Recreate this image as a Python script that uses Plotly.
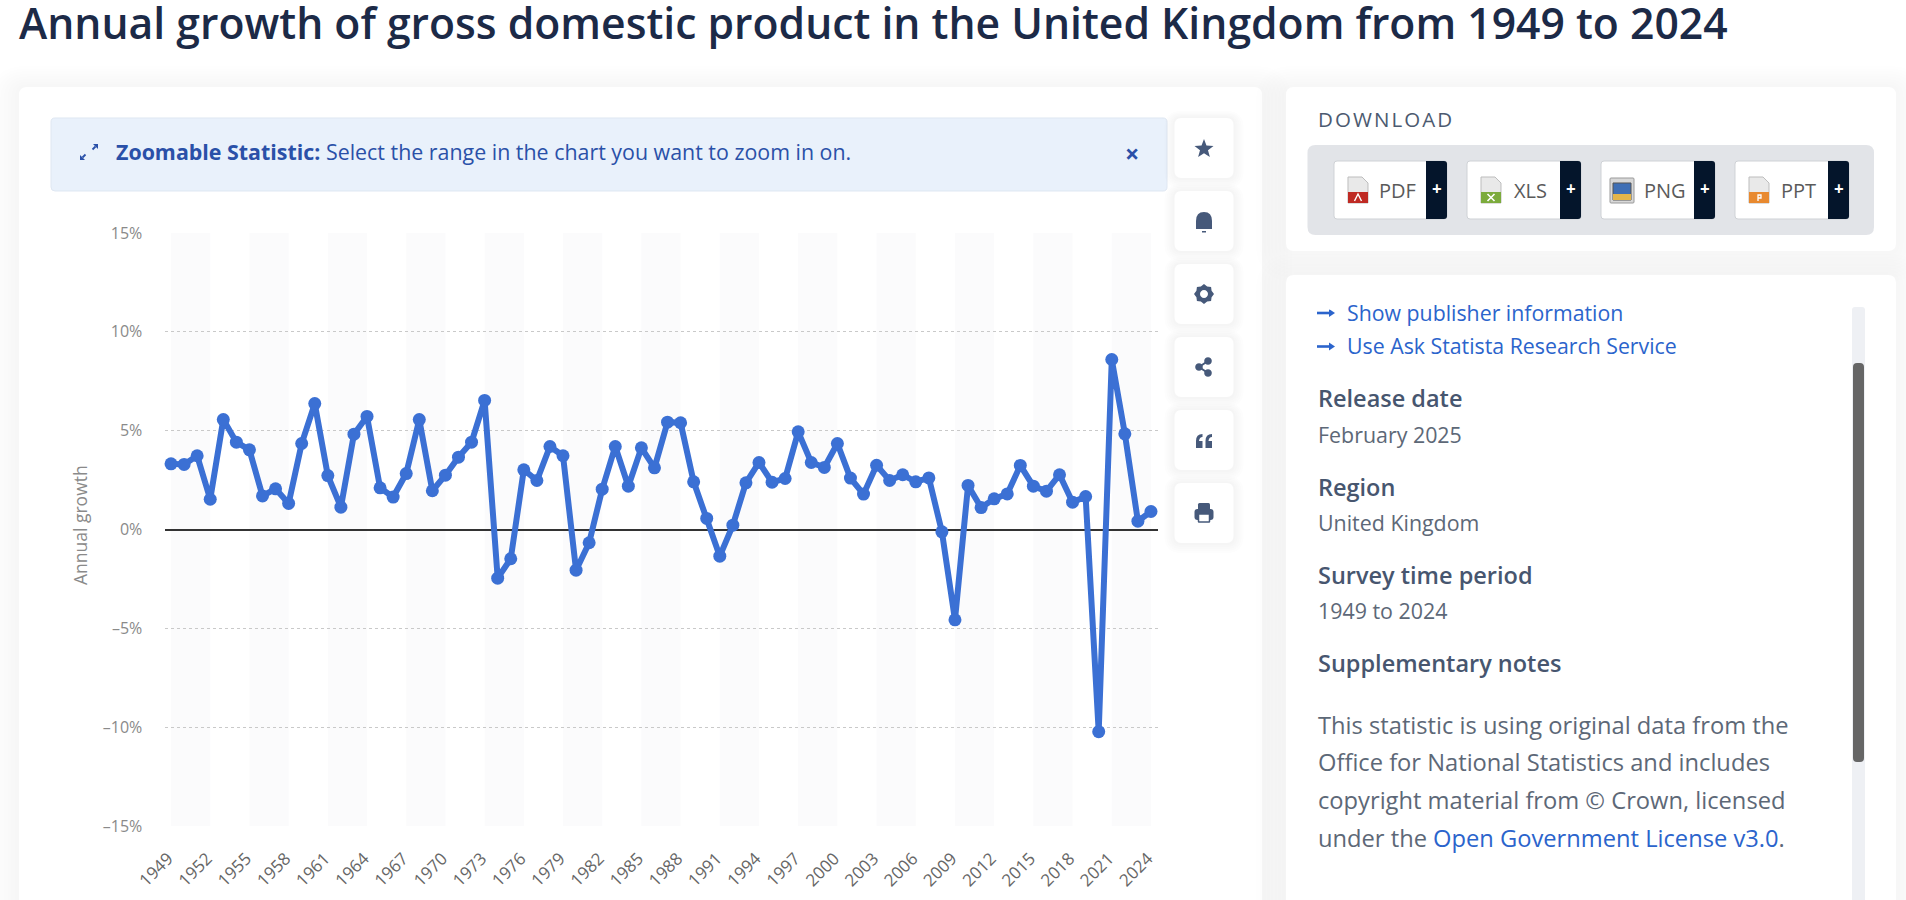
import math
import plotly.graph_objects as go

years = list(range(1949, 2025))
growth = [3.32, 3.29, 3.73, 1.53, 5.56, 4.42, 4.03, 1.70, 2.06, 1.32,
          4.35, 6.37, 2.73, 1.13, 4.82, 5.72, 2.11, 1.64, 2.83, 5.56,
          1.96, 2.75, 3.66, 4.42, 6.53, -2.46, -1.48, 3.02, 2.48, 4.20,
          3.73, -2.06, -0.67, 2.04, 4.20, 2.19, 4.13, 3.12, 5.43, 5.40,
          2.41, 0.56, -1.35, 0.22, 2.36, 3.39, 2.39, 2.58, 4.94, 3.39,
          3.14, 4.35, 2.60, 1.79, 3.25, 2.48, 2.77, 2.41, 2.61, -0.12,
          -4.57, 2.23, 1.11, 1.55, 1.80, 3.24, 2.19, 1.94, 2.77, 1.38,
          1.67, -10.23, 8.60, 4.84, 0.42, 0.91]
x_ticks = list(range(1949, 2025, 3))
y_ticks = [-15, -10, -5, 0, 5, 10, 15]

W, H = 1906, 900
FONT = "Open Sans"
shapes, notes = [], []


def fx(x):
    return x / W


def fy(y):
    return 1 - y / H


def path(cmds):
    """cmds: list like ('M',x,y), ('L',x,y), ('Q',cx,cy,x,y), ('Z',) in page pixels"""
    out = []
    for c in cmds:
        nums = c[1:]
        pts = []
        for i in range(0, len(nums), 2):
            pts.append(f"{fx(nums[i]):.6f},{fy(nums[i + 1]):.6f}")
        out.append(c[0] + " ".join(pts))
    return " ".join(out)


def add_path(cmds, fill, line=None, lw=0, layer="below"):
    shapes.append(dict(type="path", xref="paper", yref="paper", path=path(cmds),
                       fillcolor=fill, layer=layer,
                       line=dict(color=line or "rgba(0,0,0,0)", width=lw)))


def round_rect(x0, y0, x1, y1, r, fill, line=None, lw=0, layer="below", corners=(1, 1, 1, 1)):
    tl, tr, br, bl = [r * c for c in corners]
    cmds = [("M", x0 + tl, y0), ("L", x1 - tr, y0), ("Q", x1, y0, x1, y0 + tr),
            ("L", x1, y1 - br), ("Q", x1, y1, x1 - br, y1), ("L", x0 + bl, y1),
            ("Q", x0, y1, x0, y1 - bl), ("L", x0, y0 + tl), ("Q", x0, y0, x0 + tl, y0), ("Z",)]
    add_path(cmds, fill, line, lw, layer)


def card(x0, y0, x1, y1, r=8, spread=30, alpha=0.009, n=8):
    for k in range(n, 0, -1):
        s = spread * k / n
        round_rect(x0 - s, y0 - s * 0.7, x1 + s, y1 + s, r + s, f"rgba(70,80,110,{alpha})")
    round_rect(x0, y0, x1, y1, r, "#ffffff")


def circle(cx, cy, r, fill, layer="below"):
    k = r * 0.5523
    add_path([("M", cx - r, cy), ("C", cx - r, cy - k, cx - k, cy - r, cx, cy - r),
              ("C", cx + k, cy - r, cx + r, cy - k, cx + r, cy),
              ("C", cx + r, cy + k, cx + k, cy + r, cx, cy + r),
              ("C", cx - k, cy + r, cx - r, cy + k, cx - r, cy), ("Z",)], fill, layer=layer)


def text(x, y, s, size, color, anchor="left", weight=400):
    notes.append(dict(xref="paper", yref="paper", x=fx(x), y=fy(y), text=s, showarrow=False,
                      xanchor=anchor, yanchor="middle", borderpad=0, borderwidth=0,
                      font=dict(family=FONT, size=size, color=color, weight=weight)))


# ---- page furniture
card(19, 87, 1262, 950)
card(1286, 87, 1896, 251)
card(1286, 275, 1896, 950)

text(19, 22, "Annual growth of gross domestic product in the United Kingdom from 1949 to 2024",
     42.7, "#1c2a47", weight=600)

# Banner
round_rect(51, 118, 1167, 191, 4, "#e9f1fb", "#dfe7f2", 1)
text(115.5, 152, "<b>Zoomable Statistic:</b> Select the range in the chart you want to zoom in on.",
     21.4, "#2a50a8")
text(1132, 153, "<b>×</b>", 25, "#2a50a8", anchor="center")
BL = "#2a50a8"
add_path([("M", 98, 144), ("L", 93, 144), ("L", 98, 149), ("Z",)], BL)
add_path([("M", 80, 160), ("L", 85, 160), ("L", 80, 155), ("Z",)], BL)
add_path([("M", 95.5, 146.5), ("L", 92.5, 149.5)], "rgba(0,0,0,0)", BL, 1.8)
add_path([("M", 82.5, 157.5), ("L", 85.5, 154.5)], "rgba(0,0,0,0)", BL, 1.8)

# Side buttons
ICON = "#46597a"
for top in (118, 191, 264, 337, 410, 483):
    card(1174.5, top, 1233.5, top + 60, r=7, spread=10, alpha=0.012, n=5)

# star
cx, cy, ro, ri = 1204, 149, 10, 4.2
star = []
for i in range(10):
    r = ro if i % 2 == 0 else ri
    a = -math.pi / 2 + i * math.pi / 5
    star.append(("M" if i == 0 else "L", cx + r * math.cos(a), cy + r * math.sin(a)))
add_path(star + [("Z",)], ICON)
# bell
add_path([("M", 1196, 229), ("L", 1196, 221), ("Q", 1196, 212, 1204, 212), ("Q", 1212, 212, 1212, 221),
          ("L", 1212, 229), ("Z",)], ICON)
add_path([("M", 1202, 231), ("L", 1206, 231), ("L", 1206, 232.5), ("L", 1202, 232.5), ("Z",)], ICON)
# gear
cx, cy = 1204, 294
gear = []
for i in range(16):
    a = i * math.pi / 8
    r = 10 if i % 2 == 0 else 8.2
    gear.append(("M" if i == 0 else "L", cx + r * math.cos(a), cy + r * math.sin(a)))
add_path(gear + [("Z",)], ICON)
circle(cx, cy, 4, "#ffffff")
# share
add_path([("M", 1208, 361), ("L", 1199, 367), ("L", 1208, 373)], "rgba(0,0,0,0)", ICON, 2)
circle(1208, 361, 3.8, ICON)
circle(1199, 367, 3.8, ICON)
circle(1208, 373, 3.8, ICON)
# quotes
for qx in (1196, 1205.5):
    add_path([("M", qx, 448), ("L", qx, 441), ("Q", qx, 434, qx + 6.5, 434), ("L", qx + 6.5, 437),
              ("Q", qx + 3.5, 437, qx + 3, 441), ("L", qx + 6.5, 441), ("L", qx + 6.5, 448), ("Z",)], ICON)
# printer
round_rect(1198, 503, 1210, 510, 1.5, ICON)
round_rect(1194.5, 509, 1213.5, 520, 3, ICON)
round_rect(1198.5, 514, 1209.5, 522, 0.5, "#ffffff", ICON, 1.5)

# Download card
text(1318, 119, "\u200a".join("DOWNLOAD"), 20.5, "#4c5a70", weight=500)
round_rect(1307.5, 145, 1874, 235, 8, "#e2e4e8")
buttons = [("PDF", 1334, 1426, 1447, 1397, "#bf2a23"),
           ("XLS", 1467, 1560, 1581, 1530, "#7cab3c"),
           ("PNG", 1601, 1694, 1715, 1664.5, "#5b8ac7"),
           ("PPT", 1735, 1828, 1849, 1798, "#e8892f")]
for label, x0, xd, x1, tx, col in buttons:
    round_rect(x0, 161, x1, 219, 3, "#ffffff", "#cfd2d6", 1)
    round_rect(xd, 161, x1, 219, 3, "#04152b", corners=(0, 1, 1, 0))
    text(tx, 190, label, 20, "#5a5a5a", anchor="center")
    text((xd + x1) / 2, 189, "<b>+</b>", 17, "#ffffff", anchor="center")
    if label == "PNG":
        round_rect(x0 + 9, 178, x0 + 33, 203, 1, "#d8d8d8", "#9a9a9a", 1)
        add_path([("M", x0 + 12, 183), ("L", x0 + 30, 183), ("L", x0 + 30, 200), ("L", x0 + 12, 200), ("Z",)],
                  "#3f6fb5", "#555555", 1)
        add_path([("M", x0 + 12, 194), ("L", x0 + 30, 194), ("L", x0 + 30, 200), ("L", x0 + 12, 200), ("Z",)],
                  "#e3b54a")
    else:
        dx0 = x0 + 14
        add_path([("M", dx0, 177), ("L", dx0 + 14, 177), ("L", dx0 + 20, 183), ("L", dx0 + 20, 203),
                  ("L", dx0, 203), ("Z",)], "#e9e9e9", "#bdbdbd", 1)
        add_path([("M", dx0, 192), ("L", dx0 + 20, 192), ("L", dx0 + 20, 203), ("L", dx0, 203), ("Z",)], col)
        # white mark on the coloured part of each file icon
        m = dx0 + 10
        if label == "XLS":
            add_path([("M", m - 3.5, 194), ("L", m + 3.5, 201), ("M", m + 3.5, 194), ("L", m - 3.5, 201)],
                     "rgba(0,0,0,0)", "#ffffff", 1.6)
        elif label == "PDF":
            add_path([("M", m - 3.5, 201), ("L", m, 194), ("L", m + 3.5, 201)], "rgba(0,0,0,0)", "#ffffff", 1.4)
        else:
            add_path([("M", m - 1, 201), ("L", m - 1, 195), ("L", m + 2, 195), ("L", m + 2, 198), ("L", m - 1, 198)],
                     "rgba(0,0,0,0)", "#ffffff", 1.3)

# Details panel
round_rect(1852, 307, 1865, 905, 3, "#eef0f4")
round_rect(1853, 363, 1864, 762, 4, "#666666")
LINK = "#2b64cc"
HEAD = "#47566f"
BODY = "#5d6877"
for ay in (313, 346.5):
    add_path([("M", 1317, ay), ("L", 1330, ay)], "rgba(0,0,0,0)", LINK, 2.6)
    add_path([("M", 1329, ay - 4), ("L", 1335, ay), ("L", 1329, ay + 4), ("Z",)], LINK)
text(1347, 313, "Show publisher information", 21.3, LINK)
text(1347, 346, "Use Ask Statista Research Service", 21.3, LINK)
round_rect(1310, 295, 1800, 309.5, 0, "#ffffff", layer="above")
HSIZE, LSIZE, PSIZE = 23.5, 21.4, 23.7
text(1318, 398, "Release date", HSIZE, HEAD, weight=600)
text(1318, 434, "February 2025", LSIZE, BODY)
text(1318, 487, "Region", HSIZE, HEAD, weight=600)
text(1318, 522, "United Kingdom", LSIZE, BODY)
text(1318, 575, "Survey time period", HSIZE, HEAD, weight=600)
text(1318, 610, "1949 to 2024", LSIZE, BODY)
text(1318, 662.5, "Supplementary notes", HSIZE, HEAD, weight=600)
text(1318, 724.5, "This statistic is using original data from the", PSIZE, BODY)
text(1318, 762, "Office for National Statistics and includes", PSIZE, BODY)
text(1318, 799.5, "copyright material from © Crown, licensed", PSIZE, BODY)
text(1318, 837.5, f'under the <span style="color:{LINK}">Open Government License v3.0</span>.', PSIZE, BODY)

# Y axis title
notes.append(dict(xref="paper", yref="paper", x=fx(80), y=fy(525), text="Annual growth", showarrow=False,
                  textangle=-90, xanchor="center", yanchor="middle",
                  font=dict(family=FONT, size=17.5, color="#8a8a8a")))

# Alternate year bands, drawn on the data axes
for start in years[::6]:
    if start + 3 <= years[-1]:
        shapes.append(dict(type="rect", xref="x", yref="y", x0=start, x1=start + 3, y0=y_ticks[0], y1=y_ticks[-1],
                           fillcolor="#fbfbfc", line=dict(width=0), layer="below"))

fig = go.Figure()
fig.add_trace(go.Scatter(x=years, y=growth, mode="lines+markers", cliponaxis=False,
                         line=dict(color="#3b70d4", width=6, shape="linear"),
                         marker=dict(color="#3b70d4", size=13),
                         hoverinfo="x+y", showlegend=False))
fig.update_layout(
    width=W, height=H, margin=dict(l=0, r=0, t=0, b=0, pad=0), autosize=False,
    paper_bgcolor="#ffffff", plot_bgcolor="rgba(0,0,0,0)", showlegend=False,
    font=dict(family=FONT),
    shapes=shapes, annotations=notes,
    xaxis=dict(domain=[fx(164.5), fx(1157.5)], range=[1948.5, 2024.5], tickmode="array", tickvals=x_ticks,
               ticktext=[str(v) for v in x_ticks], tickangle=-45, showgrid=False, zeroline=False, automargin=False,
               ticks="outside", ticklen=15, tickcolor="rgba(0,0,0,0)", showline=False, ticklabelshift=-3,
               tickfont=dict(family=FONT, size=17, color="#666666")),
    yaxis=dict(domain=[fy(826), fy(233)], range=[-15, 15], tickmode="array", tickvals=y_ticks,
               ticktext=[f"{v}%".replace("-", "\u2013") for v in y_ticks], automargin=False,
               showgrid=True, gridcolor="#c9c9c9", griddash="dot", gridwidth=1,
               zeroline=True, zerolinecolor="#333333", zerolinewidth=2,
               ticks="outside", ticklen=18, tickcolor="rgba(0,0,0,0)", showline=False,
               tickfont=dict(family=FONT, size=16, color="#8a8a8a")),
)
fig.write_html("out.html", config=dict(displayModeBar=False),
               post_script="document.body.style.margin='0';document.body.style.overflow='hidden';")
